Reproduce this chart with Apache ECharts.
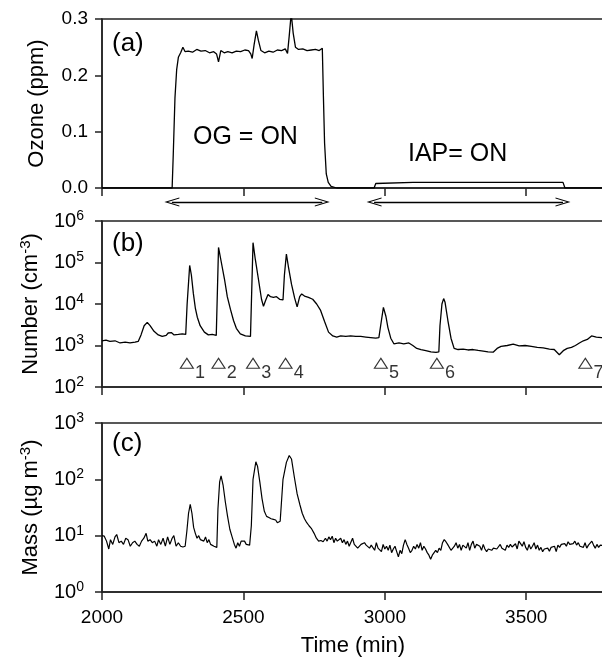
<!DOCTYPE html>
<html>
<head>
    <meta charset="utf-8">
    <title>ozone number mass</title>
    <script type="text/javascript" src="https://cdn.jsdelivr.net/npm/echarts@6/dist/echarts.min.js"></script>
    <style>
        html, body { margin: 0; padding: 0; background: #fff; }
    </style>
</head>
<body>
<div id="main" style="width: 602px;height:658px;"></div>
<script type="text/javascript">
    // time axis (min)
    var timeMin = 2000, timeMax = 3775, timeStep = 500;

    // (a) ozone, ppm
    var ozoneData = [
        [2000, 0], [2248, 0], [2252, 0.06], [2258, 0.16], [2264, 0.21], [2270, 0.232], [2278, 0.24], [2286, 0.25],
        [2294, 0.242], [2305, 0.243], [2320, 0.241], [2335, 0.246], [2350, 0.243], [2365, 0.244], [2380, 0.24],
        [2395, 0.242], [2405, 0.238], [2412, 0.224], [2420, 0.244], [2432, 0.24], [2445, 0.242], [2460, 0.24],
        [2475, 0.243], [2490, 0.242], [2505, 0.245], [2518, 0.244], [2526, 0.238], [2531, 0.23], [2538, 0.255],
        [2546, 0.279], [2553, 0.262], [2562, 0.244], [2575, 0.24], [2590, 0.243], [2605, 0.241], [2620, 0.245],
        [2635, 0.244], [2648, 0.247], [2656, 0.239], [2662, 0.27], [2669, 0.31], [2676, 0.275], [2684, 0.25],
        [2695, 0.246], [2710, 0.247], [2725, 0.244], [2740, 0.245], [2755, 0.246], [2768, 0.244], [2779, 0.248],
        [2783, 0.16], [2787, 0.08], [2793, 0.025], [2800, 0.01], [2810, 0.003], [2830, 0], [2962, 0],
        [2968, 0.008], [2975, 0.01], [3100, 0.01], [3250, 0.01], [3400, 0.01], [3550, 0.01], [3630, 0.01],
        [3637, 0], [3775, 0]
    ];

    // (b) number concentration, cm-3
    var numberData = [
        [2000, 1300], [2014, 1350], [2028, 1250], [2046, 1300], [2064, 1150], [2082, 1200], [2099, 1150],
        [2117, 1200], [2128, 1250], [2138, 1800], [2149, 3000], [2160, 3600], [2170, 3000], [2184, 2200],
        [2199, 1800], [2213, 1650], [2227, 1750], [2234, 2000], [2245, 2050], [2255, 1800], [2270, 1850],
        [2284, 1900], [2296, 1850], [2301, 10000], [2310, 85000], [2316, 50000], [2323, 18000], [2330, 8000],
        [2337, 4800], [2347, 3000], [2362, 2100], [2376, 1800], [2390, 1850], [2404, 1750], [2407, 1800],
        [2412, 230000], [2422, 100000], [2433, 40000], [2443, 15000], [2454, 7500], [2465, 4000], [2475, 2600],
        [2489, 1900], [2507, 1700], [2525, 1650], [2530, 1750], [2534, 300000], [2542, 120000], [2553, 40000],
        [2564, 13000], [2571, 8800], [2578, 12000], [2587, 17000], [2596, 15000], [2606, 14500], [2617, 15000],
        [2628, 13000], [2640, 12500], [2645, 50000], [2652, 160000], [2659, 80000], [2670, 30000], [2681, 14000],
        [2690, 8500], [2699, 15000], [2706, 17500], [2716, 15500], [2730, 14500], [2745, 13000], [2759, 10000],
        [2773, 7000], [2787, 3800], [2801, 2100], [2816, 1700], [2830, 1600], [2844, 1700], [2862, 1650],
        [2879, 1700], [2897, 1650], [2915, 1650], [2933, 1600], [2950, 1550], [2968, 1500], [2979, 1550],
        [2988, 4000], [2995, 8300], [3004, 5000], [3011, 2700], [3021, 1500], [3032, 1100], [3050, 1150],
        [3067, 1100], [3085, 1150], [3099, 1000], [3113, 850], [3128, 800], [3145, 750], [3163, 700],
        [3181, 680], [3191, 700], [3195, 3000], [3202, 10000], [3208, 13500], [3213, 11000], [3223, 4000],
        [3234, 1500], [3245, 850], [3259, 800], [3277, 820], [3294, 780], [3312, 800], [3330, 760], [3348, 730],
        [3365, 700], [3383, 690], [3397, 850], [3411, 950], [3433, 1000], [3454, 1080], [3475, 980], [3496, 1000],
        [3518, 950], [3539, 900], [3560, 880], [3582, 820], [3599, 800], [3617, 600], [3631, 750], [3645, 850],
        [3660, 900], [3674, 1000], [3688, 1150], [3702, 1300], [3716, 1400], [3731, 1700], [3738, 1850],
        [3748, 1600], [3766, 1550], [3775, 1550]
    ];

    // (b) event markers
    var markerTime = [2300, 2412, 2534, 2649, 2986, 3184, 3709];
    var markerName = ['1', '2', '3', '4', '5', '6', '7'];
    var markerLevel = 372;

    // (c) mass concentration, ug m-3
    var massData = [
        [2000, 10], [2008, 9.8], [2016, 8], [2024, 5.8], [2030, 8.5], [2038, 7], [2046, 9.5], [2052, 10.5],
        [2060, 7.5], [2068, 8], [2076, 7], [2084, 9], [2092, 8.5], [2100, 6.5], [2108, 7.5], [2116, 8],
        [2124, 7], [2132, 6.5], [2140, 8], [2148, 9], [2156, 11], [2162, 8], [2170, 8.5], [2178, 7.5],
        [2186, 8], [2194, 6.5], [2200, 8.5], [2208, 7], [2216, 9], [2224, 6.5], [2232, 9.5], [2240, 7],
        [2248, 9], [2254, 10], [2262, 6.5], [2270, 7.5], [2278, 6.5], [2286, 6.3], [2294, 6.5], [2300, 12],
        [2306, 25], [2312, 36], [2318, 25], [2324, 14], [2330, 11], [2336, 9], [2342, 10], [2348, 8.5],
        [2354, 9], [2360, 8], [2366, 9.5], [2372, 7.5], [2378, 8.5], [2384, 7], [2390, 7.5], [2396, 6.5],
        [2402, 6], [2406, 6.2], [2410, 30], [2416, 90], [2421, 115], [2428, 80], [2436, 40], [2444, 22],
        [2452, 13], [2460, 9.5], [2468, 7], [2474, 6], [2480, 7.5], [2486, 6.5], [2492, 8], [2498, 7.5],
        [2504, 8], [2510, 7], [2516, 7.5], [2522, 6.8], [2528, 15], [2534, 100], [2544, 205], [2550, 170],
        [2558, 90], [2566, 45], [2574, 27], [2582, 22], [2590, 21], [2598, 20], [2606, 19.5], [2614, 19],
        [2620, 17], [2626, 16.5], [2630, 18], [2640, 100], [2652, 200], [2662, 265], [2670, 230], [2680, 110],
        [2690, 55], [2700, 35], [2708, 25], [2716, 20], [2724, 17], [2732, 15], [2740, 13.5], [2750, 11],
        [2758, 9], [2766, 8], [2774, 8.2], [2782, 7.8], [2790, 9], [2796, 8], [2802, 9.5], [2808, 8.5],
        [2814, 9.8], [2820, 7.5], [2826, 9], [2832, 8], [2838, 7.5], [2844, 9], [2850, 7.5], [2856, 8.5],
        [2862, 7], [2868, 8], [2874, 6.5], [2880, 6.8], [2886, 9], [2892, 7], [2898, 7.5], [2904, 6],
        [2910, 6.3], [2916, 7], [2922, 6.5], [2928, 7.5], [2934, 6.8], [2940, 7.2], [2946, 6], [2952, 6.8],
        [2958, 7], [2964, 5.5], [2970, 7.5], [2976, 6], [2982, 6.5], [2988, 5.2], [2994, 7], [3000, 5.8],
        [3006, 6.5], [3012, 5.5], [3018, 6.8], [3024, 5], [3030, 5.8], [3036, 6.5], [3042, 5.2], [3048, 4.2],
        [3054, 5.5], [3060, 4.8], [3066, 6.8], [3072, 8.5], [3078, 7], [3084, 6], [3090, 5], [3096, 5.5],
        [3102, 6.5], [3108, 5.8], [3114, 7], [3120, 6], [3126, 7.5], [3132, 5.5], [3138, 6.5], [3144, 5.8],
        [3150, 5], [3156, 4.5], [3162, 3.8], [3168, 4.5], [3174, 4.8], [3180, 5.5], [3186, 5], [3192, 6],
        [3198, 5.5], [3204, 7.5], [3210, 8.5], [3216, 7.8], [3222, 7], [3228, 6.5], [3234, 5.5], [3240, 5.2],
        [3246, 6.5], [3252, 7.5], [3258, 6], [3264, 7], [3270, 5.5], [3276, 6.8], [3282, 7.2], [3288, 6],
        [3294, 7.5], [3300, 5.5], [3306, 7], [3312, 8], [3318, 6], [3324, 7], [3330, 7.5], [3336, 6.5],
        [3342, 5.5], [3348, 7], [3354, 5.8], [3360, 5.2], [3366, 5.8], [3372, 6.2], [3378, 5.5], [3384, 6],
        [3390, 6.5], [3396, 5.8], [3402, 6.2], [3408, 7], [3414, 6], [3420, 6.5], [3426, 5.5], [3432, 6.8],
        [3438, 6.2], [3444, 7], [3450, 6.3], [3456, 6.8], [3462, 7.2], [3468, 5.8], [3474, 8], [3480, 8.5],
        [3486, 6.5], [3492, 7.8], [3498, 6.2], [3504, 5.5], [3510, 7], [3516, 5.8], [3522, 6.5], [3528, 7.5],
        [3534, 5.8], [3540, 6.8], [3546, 5.5], [3552, 6.2], [3558, 5.2], [3564, 5.8], [3570, 5.5], [3576, 6],
        [3582, 5.3], [3588, 6.2], [3594, 5.8], [3600, 6.5], [3606, 5.2], [3612, 6.8], [3618, 6.2], [3624, 7],
        [3630, 6.5], [3636, 7.2], [3642, 6.5], [3648, 7.8], [3654, 7], [3660, 6.5], [3666, 7.2], [3672, 8],
        [3678, 6.8], [3684, 7.5], [3690, 6.5], [3696, 7], [3702, 6.2], [3708, 7.5], [3714, 6], [3720, 6.8],
        [3726, 7], [3732, 8], [3738, 6.8], [3744, 6], [3750, 7], [3756, 6.2], [3762, 6.8], [3768, 6.5],
        [3775, 6.6]
    ];

    // OG / IAP on-periods shown as arrows
    var ogPeriod = [2247, 2779];
    var iapPeriod = [2962, 3630];

    var FONT = 'Liberation Sans, Arial, sans-serif';
    var AXIS_COLOR = '#222';
    var chevron = 'path://M0,10 L5,0 L10,10 L8.8,10 L5,2.4 L1.2,10 Z';

    var myChart = echarts.init(document.getElementById('main'));

    function xAxisFor(idx, showLabels) {
        return {
            type: 'value', gridIndex: idx, min: timeMin, max: timeMax, interval: timeStep,
            axisLine: { lineStyle: { color: AXIS_COLOR, width: 1.5 } },
            axisTick: { show: idx < 3, inside: false, length: 8, lineStyle: { color: AXIS_COLOR, width: 1.5 } },
            axisLabel: {
                show: showLabels, color: '#000', fontSize: 19, fontFamily: FONT, margin: 16,
                showMaxLabel: false,
                formatter: function (v) { return String(v); }
            },
            splitLine: { show: false },
            show: idx < 3,
            name: showLabels ? 'Time (min)' : '',
            nameLocation: 'middle', nameGap: 43,
            nameTextStyle: { color: '#000', fontSize: 22, fontFamily: FONT }
        };
    }

    var supRich = {
        sup: { fontSize: 14, fontFamily: FONT, color: '#000', padding: [0, 0, 10, 0] }
    };

    function logAxis(idx, min, max, name, gap) {
        return {
            type: 'log', logBase: 10, gridIndex: idx, min: min, max: max,
            axisLine: { lineStyle: { color: AXIS_COLOR, width: 1.5 } },
            axisTick: { length: 7, lineStyle: { color: AXIS_COLOR, width: 1.5 } },
            axisLabel: {
                color: '#000', fontSize: 20, fontFamily: FONT, margin: 18,
                formatter: function (v) { return '10{sup|' + Math.round(Math.log10(v)) + '}'; },
                rich: supRich
            },
            splitLine: { show: false },
            name: name, nameLocation: 'middle', nameGap: gap,
            nameTextStyle: { color: '#000', fontSize: 22, fontFamily: FONT, rich: {
                sup: { fontSize: 15, fontFamily: FONT, color: '#000', padding: [0, 0, 11, 0] }
            } }
        };
    }

    var gridBase = {
        left: 102, right: -2, show: true, borderColor: AXIS_COLOR, borderWidth: 1.5,
        backgroundColor: 'transparent', containLabel: false, outerBoundsMode: 'none'
    };

    var option = {
        animation: false,
        backgroundColor: '#fff',
        textStyle: { fontFamily: FONT },
        grid: [
            Object.assign({ top: 19, height: 169 }, gridBase),
            Object.assign({ top: 221, height: 166 }, gridBase),
            Object.assign({ top: 423, height: 169 }, gridBase),
            { left: 102, right: -2, top: 195, height: 14, show: false, containLabel: false, outerBoundsMode: 'none' }
        ],
        xAxis: [xAxisFor(0, false), xAxisFor(1, false), xAxisFor(2, true), xAxisFor(3, false)],
        yAxis: [
            {
                type: 'value', gridIndex: 0, min: 0, max: 0.3, interval: 0.1,
                axisLine: { lineStyle: { color: AXIS_COLOR, width: 1.5 } },
                axisTick: { length: 7, lineStyle: { color: AXIS_COLOR, width: 1.5 } },
                axisLabel: {
                    color: '#000', fontSize: 19, fontFamily: FONT, margin: 14,
                    formatter: function (v) { return v.toFixed(1); }
                },
                splitLine: { show: false },
                name: 'Ozone (ppm)', nameLocation: 'middle', nameGap: 54,
                nameTextStyle: { color: '#000', fontSize: 22, fontFamily: FONT }
            },
            logAxis(1, 100, 1e6, 'Number (cm{sup|-3})', 58),
            logAxis(2, 1, 1000, 'Mass (\u00b5g m{sup|-3})', 58),
            { type: 'value', gridIndex: 3, min: 0, max: 1, show: false }
        ],
        series: [
            {
                type: 'line', xAxisIndex: 0, yAxisIndex: 0, data: ozoneData,
                showSymbol: false, clip: true,
                lineStyle: { color: '#000', width: 1.3 }
            },
            {
                type: 'line', xAxisIndex: 1, yAxisIndex: 1, data: numberData,
                showSymbol: false, clip: true,
                lineStyle: { color: '#000', width: 1.3 }
            },
            {
                type: 'scatter', xAxisIndex: 1, yAxisIndex: 1,
                data: markerTime.map(function (t) { return [t, markerLevel]; }),
                symbol: 'triangle', symbolSize: [13, 10],
                itemStyle: { color: '#fff', borderColor: '#000', borderWidth: 1.1 },
                label: {
                    show: true, position: 'right', distance: 1, offset: [0, 10],
                    color: '#000', fontSize: 18, fontFamily: FONT,
                    formatter: function (p) { return markerName[p.dataIndex]; }
                }
            },
            {
                type: 'line', xAxisIndex: 2, yAxisIndex: 2, data: massData,
                showSymbol: false, clip: true,
                lineStyle: { color: '#000', width: 1.2 }
            },
            {
                type: 'line', xAxisIndex: 3, yAxisIndex: 3, data: [],
                markLine: {
                    silent: true, symbol: [chevron, chevron], symbolSize: [9, 15],
                    label: { show: false },
                    lineStyle: { color: '#000', width: 1.3, type: 'solid' },
                    data: [
                        [{ coord: [ogPeriod[0], 0.5] }, { coord: [ogPeriod[1], 0.5] }],
                        [{ coord: [iapPeriod[0], 0.5] }, { coord: [iapPeriod[1], 0.5] }]
                    ]
                }
            }
        ],
        graphic: [
            { type: 'text', left: 112, top: 31, style: { text: '(a)', fontSize: 26, fontFamily: FONT, fill: '#000' } },
            { type: 'text', left: 112, top: 231, style: { text: '(b)', fontSize: 26, fontFamily: FONT, fill: '#000' } },
            { type: 'text', left: 112, top: 431, style: { text: '(c)', fontSize: 26, fontFamily: FONT, fill: '#000' } },
            { type: 'text', left: 193, top: 125, style: { text: 'OG = ON', fontSize: 25, fontFamily: FONT, fill: '#000' } },
            { type: 'text', left: 408, top: 142, style: { text: 'IAP= ON', fontSize: 25, fontFamily: FONT, fill: '#000' } }
        ]
    };

    myChart.setOption(option);
</script>
</body>
</html>
